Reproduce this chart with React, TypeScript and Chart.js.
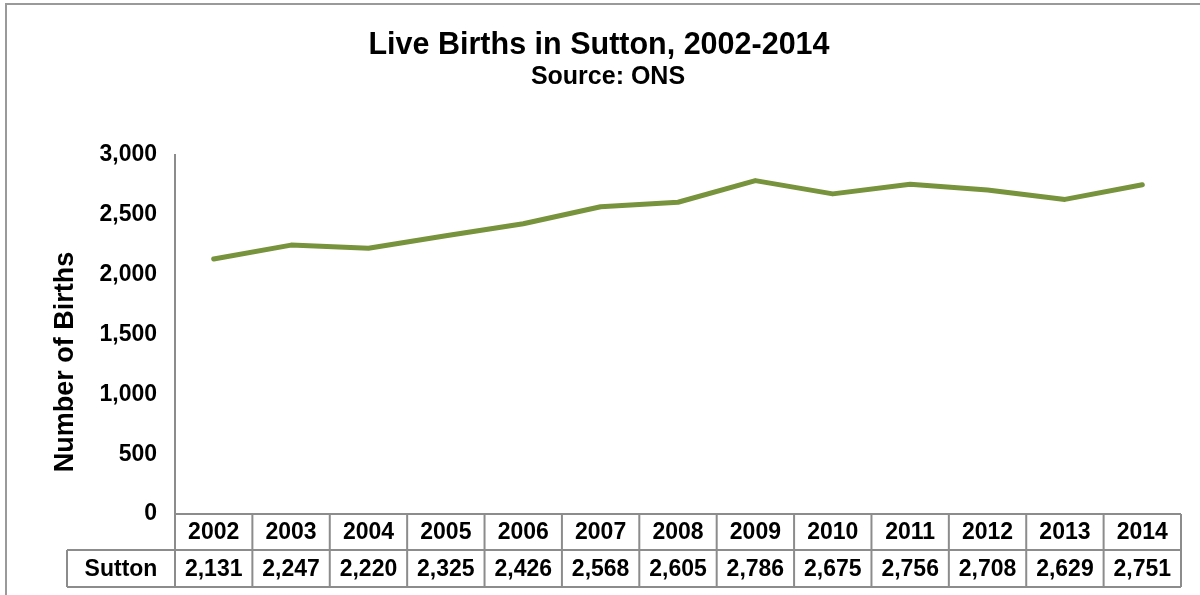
import React, { useEffect, useRef } from "react";
import { Chart, registerables } from "chart.js";

Chart.register(...registerables);

const YEARS = ["2002", "2003", "2004", "2005", "2006", "2007", "2008", "2009", "2010", "2011", "2012", "2013", "2014"];
const SUTTON = [2131, 2247, 2220, 2325, 2426, 2568, 2605, 2786, 2675, 2756, 2708, 2629, 2751];
const SERIES_NAME = "Sutton";
const TITLE = "Live Births in Sutton, 2002-2014";
const SUBTITLE = "Source: ONS";
const Y_TITLE = "Number of Births";
const Y_MIN = 0;
const Y_MAX = 3000;
const Y_STEP = 500;

const FONT = "'Liberation Sans', Arial, sans-serif";
const fmt = (v: number) => v.toLocaleString("en-US");

const decorPlugin = {
  id: "decor",
  beforeDraw(chart: any) {
    const { ctx, width, height } = chart;
    ctx.save();
    ctx.fillStyle = "#ffffff";
    ctx.fillRect(0, 0, width, height);
    ctx.strokeStyle = "#9a9a9a";
    ctx.lineWidth = 2;
    ctx.beginPath();
    ctx.moveTo(6, height);
    ctx.lineTo(6, 4);
    ctx.lineTo(width, 4);
    ctx.stroke();

    ctx.fillStyle = "#000";
    ctx.textAlign = "center";
    ctx.textBaseline = "middle";
    ctx.font = `bold 30.5px ${FONT}`;
    ctx.fillText(TITLE, 599, 46);
    ctx.font = `bold 25px ${FONT}`;
    ctx.fillText(SUBTITLE, 608, 77);

    ctx.translate(66, 362);
    ctx.rotate(-Math.PI / 2);
    ctx.font = `bold 27px ${FONT}`;
    ctx.fillText(Y_TITLE, 0, 0);
    ctx.restore();
  },
  afterDraw(chart: any) {
    const { ctx, chartArea } = chart;
    const x = chart.scales.x;
    const n = YEARS.length;
    const left = chartArea.left;
    const right = chartArea.right;
    const colW = (right - left) / n;
    const top = chartArea.bottom;
    const mid = top + 36;
    const bot = top + 73;
    const labelLeft = left - 108;

    ctx.save();
    ctx.strokeStyle = "#8c8c8c";
    ctx.lineWidth = 2;
    ctx.beginPath();
    ctx.moveTo(left, top);
    ctx.lineTo(right, top);
    ctx.moveTo(labelLeft, mid);
    ctx.lineTo(right, mid);
    ctx.moveTo(labelLeft, bot);
    ctx.lineTo(right, bot);
    ctx.moveTo(labelLeft, mid);
    ctx.lineTo(labelLeft, bot);
    for (let i = 0; i <= n; i++) {
      const cx = left + i * colW;
      ctx.moveTo(cx, i === 0 ? chartArea.top : top);
      ctx.lineTo(cx, bot);
    }
    ctx.stroke();

    ctx.fillStyle = "#000";
    ctx.textAlign = "center";
    ctx.textBaseline = "middle";
    ctx.font = `bold 23px ${FONT}`;
    YEARS.forEach((y, i) => {
      const cx = x.getPixelForValue(i);
      ctx.fillText(y, cx, (top + mid) / 2 + 1);
      ctx.fillText(fmt(SUTTON[i]), cx, (mid + bot) / 2 + 1);
    });
    ctx.fillText(SERIES_NAME, (labelLeft + left) / 2, (mid + bot) / 2 + 1);
    ctx.restore();
  },
};

export default function App() {
  const ref = useRef<HTMLCanvasElement>(null);
  useEffect(() => {
    if (!ref.current) return;
    const chart = new Chart(ref.current, {
      type: "line",
      data: {
        labels: YEARS,
        datasets: [
          {
            label: SERIES_NAME,
            data: SUTTON,
            borderColor: "#77933C",
            backgroundColor: "#77933C",
            borderWidth: 5,
            pointRadius: 0,
            tension: 0,
            borderCapStyle: "round",
            borderJoinStyle: "round",
          },
        ],
      },
      options: {
        responsive: false,
        animation: false,
        devicePixelRatio: 1,
        layout: { padding: { top: 155, bottom: 81, left: 0, right: 19 } },
        plugins: {
          legend: { display: false },
          title: { display: false },
          tooltip: { enabled: false },
        },
        scales: {
          x: {
            type: "category",
            offset: true,
            display: false,
          },
          y: {
            min: Y_MIN,
            max: Y_MAX,
            grid: { display: false, drawTicks: false },
            border: { display: true, color: "#8c8c8c", width: 2 },
            ticks: {
              stepSize: Y_STEP,
              padding: 18,
              color: "#000",
              font: { family: FONT, size: 23, weight: "bold" },
              callback: (v: any) => fmt(Number(v)),
            },
            afterFit: (scale: any) => {
              scale.width = 175;
            },
          },
        },
      },
      plugins: [decorPlugin],
    });
    return () => chart.destroy();
  }, []);
  return (
    <div style={{ position: "absolute", left: 0, top: 0, width: 1200, height: 595 }}>
      <canvas ref={ref} width={1200} height={595} style={{ display: "block" }} />
    </div>
  );
}
